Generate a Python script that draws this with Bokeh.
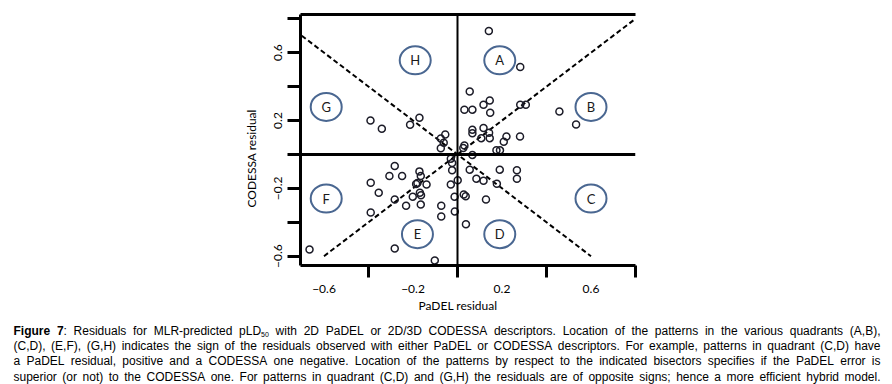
import math
from bokeh.plotting import figure
from bokeh.models import Range1d, LinearAxis, FixedTicker, Span, Title, ColumnDataSource
from bokeh.layouts import column
from bokeh.core.properties import value
from bokeh.embed import file_html
from bokeh.resources import INLINE

# ---------------- data ----------------
padel_residual = [
    -0.391, -0.340, -0.213, -0.171, -0.055, -0.075, -0.062, -0.075,
    0.141, 0.282, 0.055, 0.031, 0.067, 0.117, 0.145, 0.147, 0.282, 0.307,
    0.458, 0.533, 0.067, 0.067, 0.117, 0.142, 0.107, 0.145, 0.220, 0.208,
    0.281, 0.175, 0.191, 0.031, 0.026, 0.067,
    -0.282, -0.306, -0.249, -0.390, -0.171, -0.165, -0.186, -0.180, -0.139,
    -0.354, -0.169, -0.164, -0.201, -0.282, -0.231, -0.165, -0.390, -0.073,
    -0.073, -0.665, -0.282, -0.102, -0.030, -0.024, -0.024, -0.030, -0.013,
    -0.012,
    0.001, 0.028, 0.037, 0.038, 0.055, 0.190, 0.267, 0.267, 0.085, 0.117,
    0.177, 0.128,
]
codessa_residual = [
    0.200, 0.151, 0.175, 0.216, 0.118, 0.094, 0.069, 0.037,
    0.728, 0.516, 0.371, 0.264, 0.264, 0.293, 0.318, 0.246, 0.293, 0.293,
    0.253, 0.177, 0.145, 0.125, 0.156, 0.128, 0.096, 0.096, 0.106, 0.075,
    0.106, 0.024, 0.024, 0.052, 0.038, -0.003,
    -0.068, -0.127, -0.127, -0.167, -0.100, -0.127, -0.174, -0.168, -0.177,
    -0.226, -0.226, -0.241, -0.249, -0.266, -0.303, -0.296, -0.343, -0.303,
    -0.366, -0.561, -0.555, -0.625, -0.025, -0.051, -0.094, -0.178, -0.249,
    -0.336,
    -0.153, -0.237, -0.247, -0.412, -0.090, -0.090, -0.094, -0.143, -0.143,
    -0.155, -0.173, -0.266,
]
quadrant_labels = ["A", "B", "C", "D", "E", "F", "G", "H"]
quadrant_x = [0.19, 0.60, 0.60, 0.19, -0.18, -0.59, -0.59, -0.19]
quadrant_y = [0.555, 0.28, -0.26, -0.47, -0.47, -0.26, 0.28, 0.555]

bisector_pos_x = [-0.6, 0.8]
bisector_pos_y = [-0.6, 0.8]
bisector_neg_x = [-0.7, 0.6]
bisector_neg_y = [0.7, -0.6]

x_labeled_ticks = [-0.6, -0.2, 0.2, 0.6]
x_plain_ticks = [-0.4, 0.0, 0.4, 0.8]
y_labeled_ticks = [-0.6, -0.2, 0.2, 0.6]
y_plain_ticks = [-0.4, 0.0, 0.4, 0.8]

x_title = "PaDEL residual"
y_title = "CODESSA residual"

caption_lines = [
    "Figure 7: Residuals for MLR-predicted pLD50 with 2D PaDEL or 2D/3D CODESSA descriptors. Location of the patterns in the various quadrants (A,B),",
    "(C,D), (E,F), (G,H) indicates the sign of the residuals observed with either PaDEL or CODESSA descriptors. For example, patterns in quadrant (C,D) have",
    "a PaDEL residual, positive and a CODESSA one negative. Location of the patterns by respect to the indicated bisectors specifies if the PaDEL error is",
    "superior (or not) to the CODESSA one. For patterns in quadrant (C,D) and (G,H) the residuals are of opposite signs; hence a more efficient hybrid model.",
]

INK = "#1c1c28"
RING = "#4a6791"
FONT = "Lato"

W = 892
MAIN_H = 313
FRAME_L, FRAME_R, FRAME_T, FRAME_B = 300, 635, 14, 265

# ---------------- main plot ----------------
p = figure(width=W, height=MAIN_H,
           x_range=Range1d(-0.7056, 0.8), y_range=Range1d(-0.655, 0.825),
           output_backend="svg", toolbar_location=None,
           x_axis_location=None, y_axis_location=None,
           min_border_left=FRAME_L, min_border_right=W - FRAME_R,
           min_border_top=FRAME_T, min_border_bottom=MAIN_H - FRAME_B)
p.frame_align = False
p.xgrid.grid_line_color = None
p.ygrid.grid_line_color = None
p.outline_line_color = None
p.background_fill_color = "white"
p.border_fill_color = "white"

xaxis = LinearAxis(ticker=FixedTicker(ticks=x_labeled_ticks, minor_ticks=x_plain_ticks),
                   axis_line_width=3, axis_line_color="black",
                   major_tick_out=0, major_tick_in=0,
                   minor_tick_out=12, minor_tick_in=0,
                   minor_tick_line_width=3, minor_tick_line_color="black",
                   major_label_standoff=7,
                   major_label_text_font=FONT, major_label_text_font_size="12px",
                   major_label_text_color="black")
p.add_layout(xaxis, "below")

yaxis = LinearAxis(ticker=FixedTicker(ticks=y_labeled_ticks, minor_ticks=y_plain_ticks),
                   axis_line_width=3, axis_line_color="black",
                   major_tick_out=13, major_tick_in=0,
                   major_tick_line_width=3, major_tick_line_color="black",
                   minor_tick_out=13, minor_tick_in=0,
                   minor_tick_line_width=3, minor_tick_line_color="black",
                   major_label_standoff=5, major_label_orientation="vertical",
                   major_label_text_font=FONT, major_label_text_font_size="12px",
                   major_label_text_color="black")
p.add_layout(yaxis, "left")

topaxis = LinearAxis(ticker=FixedTicker(ticks=[]), axis_line_width=3, axis_line_color="black",
                     major_tick_out=0, major_tick_in=0, minor_tick_out=0, minor_tick_in=0,
                     major_label_text_font_size="0px")
p.add_layout(topaxis, "above")

p.add_layout(Title(text=x_title, align="left", offset=118, standoff=0,
                   text_font=FONT, text_font_size="12px", text_font_style="normal",
                   text_color="black"), "below")
p.add_layout(Title(text=y_title, align="left", offset=58, standoff=26,
                   text_font=FONT, text_font_size="12px", text_font_style="normal",
                   text_color="black"), "left")

p.add_layout(Span(location=0, dimension="width", line_width=3, line_color="black"))
p.add_layout(Span(location=0, dimension="height", line_width=2, line_color="black"))

p.line(bisector_pos_x, bisector_pos_y, line_color="black", line_width=2, line_dash="5 3")
p.line(bisector_neg_x, bisector_neg_y, line_color="black", line_width=2, line_dash="5 3")

p.scatter(padel_residual, codessa_residual, marker="circle", size=7,
          fill_color=None, line_color=INK, line_width=1.5)

p.ellipse(x=quadrant_x, y=quadrant_y, width=31, height=28,
          width_units="screen", height_units="screen",
          fill_color=None, line_color=RING, line_width=2)
p.text(x=quadrant_x, y=quadrant_y, text=quadrant_labels, text_font=value(FONT),
       text_font_size="13px", text_align="center", text_baseline="middle",
       text_color="#1a1a1a")

# ---------------- caption (justified, Arial-metric layout) ----------------
REG_W = {' ': 278, '(': 333, ')': 333, ',': 278, '-': 333, '.': 278, '/': 278, ':': 278, ';': 278}
for d in "0123456789":
    REG_W[d] = 556
REG_W.update({'A': 667, 'B': 667, 'C': 722, 'D': 722, 'E': 667, 'F': 611, 'G': 778, 'H': 722,
              'I': 278, 'J': 500, 'K': 667, 'L': 556, 'M': 833, 'N': 722, 'O': 778, 'P': 667,
              'Q': 778, 'R': 722, 'S': 667, 'T': 611, 'U': 722, 'V': 667, 'W': 944, 'X': 667,
              'Y': 667, 'Z': 611,
              'a': 556, 'b': 556, 'c': 500, 'd': 556, 'e': 556, 'f': 278, 'g': 556, 'h': 556,
              'i': 222, 'j': 222, 'k': 500, 'l': 222, 'm': 833, 'n': 556, 'o': 556, 'p': 556,
              'q': 556, 'r': 333, 's': 500, 't': 278, 'u': 556, 'v': 500, 'w': 722, 'x': 500,
              'y': 500, 'z': 500})
BOLD_W = {'F': 611, 'i': 278, 'g': 611, 'u': 611, 'r': 389, 'e': 556, '7': 556}
SIZES = {"normal": 12.0, "bold": 12.0, "sub": 7.0}


def piece_width(s, style):
    table = BOLD_W if style == "bold" else REG_W
    return sum(table.get(ch, REG_W.get(ch, 556)) for ch in s) * SIZES[style] / 1000.0


def tokenize(line, idx):
    words = []
    for w in line.split(" "):
        if idx == 0 and w == "Figure":
            words.append([(w, "bold")])
        elif idx == 0 and w == "7:":
            words.append([("7", "bold"), (":", "normal")])
        elif w == "pLD50":
            words.append([("pLD", "normal"), ("50", "sub")])
        else:
            words.append([(w, "normal")])
    return words


CAP_TOP = MAIN_H
CAP_H = 384 - CAP_TOP
LEFT, RIGHT = 13, 880
baselines = [330, 345.4, 360.8, 376.2]

srcs = {k: {"x": [], "y": [], "text": []} for k in SIZES}
for i, line in enumerate(caption_lines):
    words = tokenize(line, i)
    widths = [sum(piece_width(t, s) for t, s in w) for w in words]
    gap = (RIGHT - LEFT - sum(widths)) / (len(words) - 1)
    xc = LEFT
    yb = baselines[i] - CAP_TOP
    for w, ww in zip(words, widths):
        for t, s in w:
            srcs[s]["x"].append(xc)
            srcs[s]["y"].append(yb + (3.5 if s == "sub" else 0))
            srcs[s]["text"].append(t)
            xc += piece_width(t, s)
        xc += gap

cap = figure(width=W, height=CAP_H,
             x_range=Range1d(0, W), y_range=Range1d(CAP_H, 0),
             output_backend="svg", toolbar_location=None,
             x_axis_location=None, y_axis_location=None, min_border=0)
cap.frame_align = False
cap.xgrid.grid_line_color = None
cap.ygrid.grid_line_color = None
cap.outline_line_color = None

for style in ["normal", "bold", "sub"]:
    cap.text(x="x", y="y", text="text", source=ColumnDataSource(srcs[style]),
             text_font=value("Liberation Sans"), text_font_size=f"{SIZES[style]:g}px",
             text_font_style=("bold" if style == "bold" else "normal"),
             text_align="left", text_baseline="alphabetic", text_color="black")

layout = column(p, cap, spacing=0)
open("out.html", "w").write(file_html(layout, INLINE))
